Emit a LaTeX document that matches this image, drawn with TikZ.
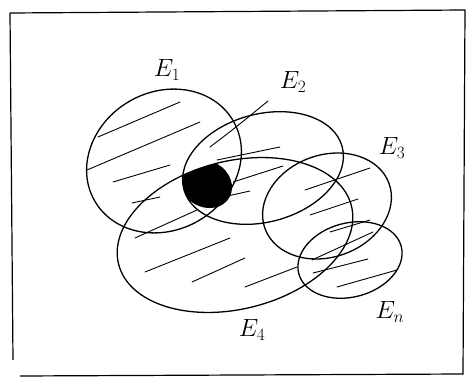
\documentclass[tikz,border=0pt]{standalone}
\usetikzlibrary{calc}
\begin{document}
\begin{tikzpicture}[x=1pt,y=-1pt,
  setline/.style={line width=1.3pt,black},
  hatch/.style={line width=0.9pt,black,line cap=round},
  lbl/.style={font=\fontsize{26}{28}\selectfont, inner sep=0pt}]
\useasboundingbox (0,0) rectangle (471,385);
% frame
\draw[line width=1.2pt] (10,13) -- (465,10) -- (463,374) -- (20,376);
\draw[line width=1.2pt] (10,13) -- (13,360);
% ellipse centres
\coordinate (c1) at (164,161);
\coordinate (c2) at (263,168);
\coordinate (c4) at (235,235);
\coordinate (c3) at (327,206);
\coordinate (cn) at (350,260);
% dark blob inside E1, E2 and E4
\begin{scope}
  \clip[rotate around={15:(c2)}] (c2) ellipse [x radius=82, y radius=54];
  \clip[rotate around={14:(c4)}] (c4) ellipse [x radius=120, y radius=74];
  \fill[rotate around={-30:(206,184)}] (206,184) ellipse [x radius=27, y radius=23];
\end{scope}
% hatching
\draw[hatch] (98,137) -- (180,102);
\draw[hatch] (87,170) -- (200,122);
\draw[hatch] (113,182) -- (170,165);
\draw[hatch] (132,203) -- (160,197);
\draw[hatch] (135,238) -- (197,210);
\draw[hatch] (210,147) .. controls (235,128) .. (268,101);
\draw[hatch] (217,160) -- (280,147);
\draw[hatch] (233,182) -- (283,166);
\draw[hatch] (223,197) -- (250,191);
\draw[hatch] (145,272) -- (230,238);
\draw[hatch] (192,282) -- (245,258);
\draw[hatch] (245,287) -- (297,267);
\draw[hatch] (305,190) -- (370,168);
\draw[hatch] (310,215) -- (358,199);
\draw[hatch] (330,232) -- (370,220);
\draw[hatch] (312,260) -- (373,232);
\draw[hatch] (313,273) -- (368,259);
\draw[hatch] (337,287) -- (397,270);
% ellipses
\draw[setline,rotate around={30:(c1)}] (c1) ellipse [x radius=80, y radius=69];
\draw[setline,rotate around={15:(c2)}] (c2) ellipse [x radius=82, y radius=54];
\draw[setline,rotate around={14:(c4)}] (c4) ellipse [x radius=120, y radius=74];
\draw[setline,rotate around={20:(c3)}] (c3) ellipse [x radius=66, y radius=51];
\draw[setline,rotate around={15:(cn)}] (cn) ellipse [x radius=53, y radius=37];
% labels
\node[lbl] (l1) at (167,70) {$E_1$};
\node[lbl] (l2) at (293,82) {$E_2$};
\node[lbl] (l3) at (392,148) {$E_3$};
\node[lbl] (l4) at (252,330) {$E_4$};
\node[lbl] (ln) at (390,312) {$E_n$};
\end{tikzpicture}
\end{document}
